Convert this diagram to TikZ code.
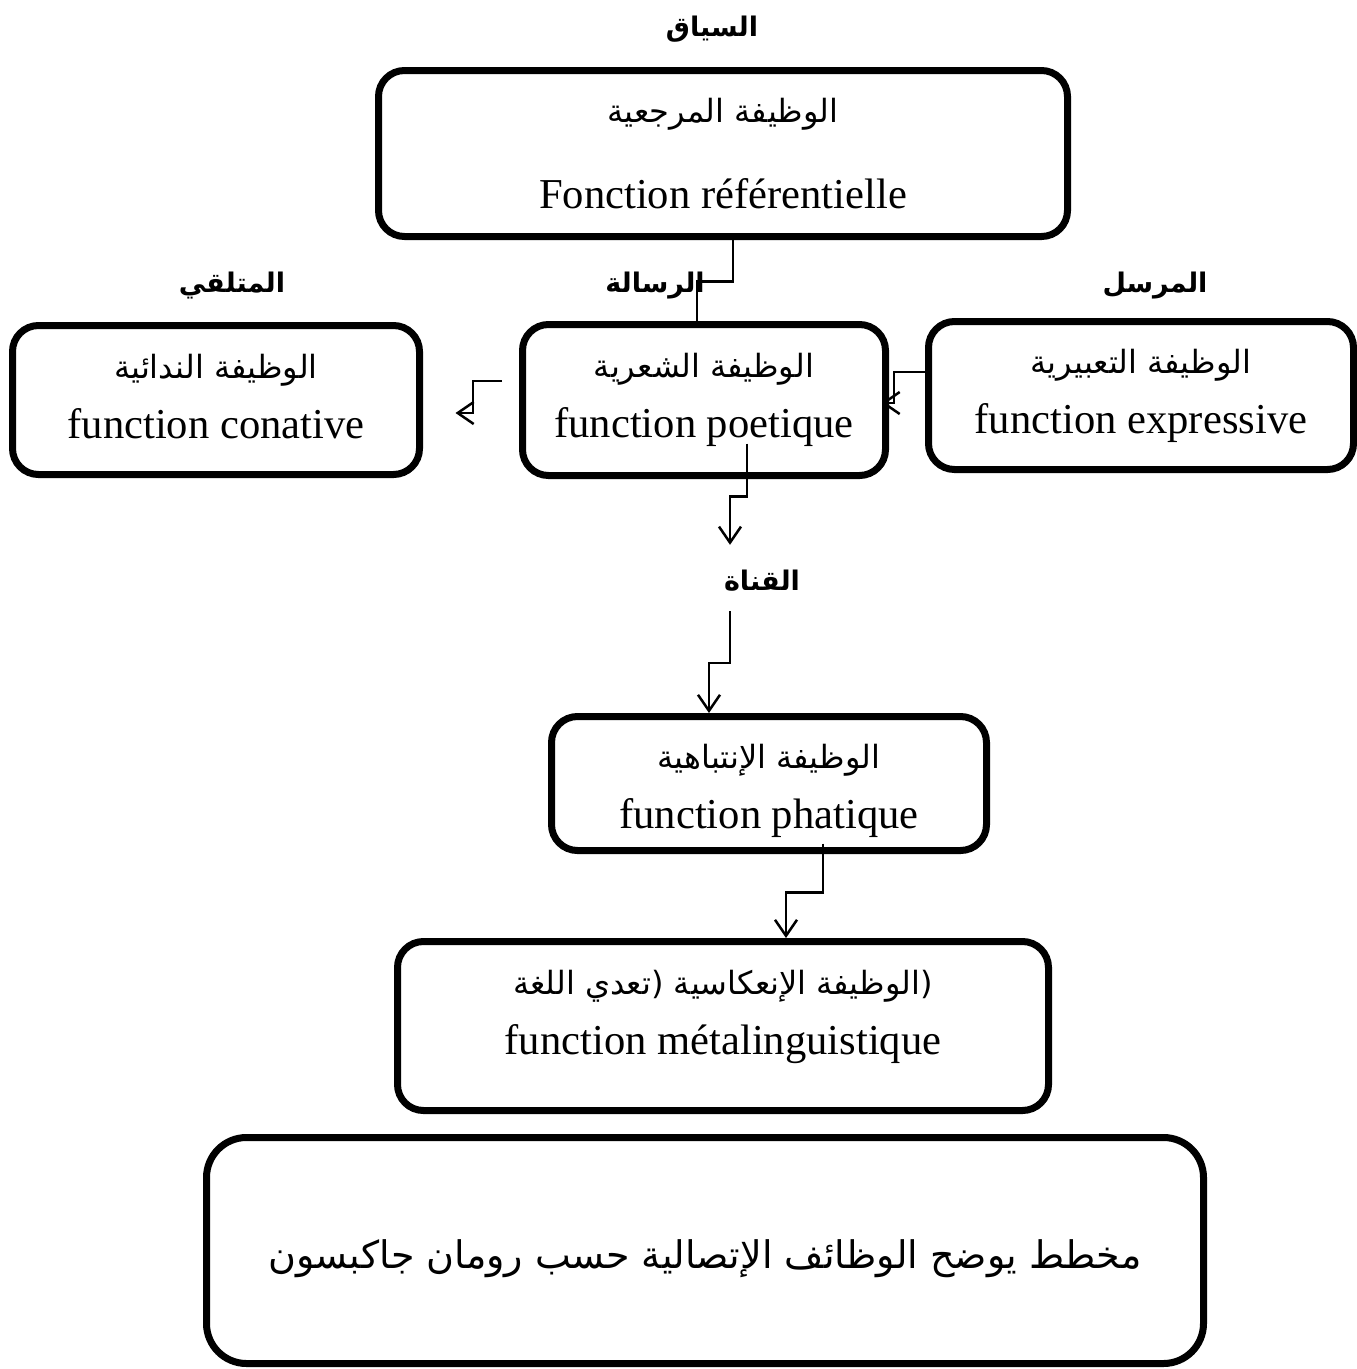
\documentclass[tikz,border=0pt]{standalone}
\usepackage{fontspec}
\setmainfont{Liberation Serif}
\newfontfamily\arabicfont[Script=Arabic]{DejaVu Sans}
\TeXXeTstate=1
\usetikzlibrary{arrows.meta}
\pgfdeclarelayer{back}
\pgfsetlayers{back,main}

\newcommand{\artext}[1]{{\arabicfont\fontsize{32}{60}\selectfont\beginR #1\endR}}
\newcommand{\arhead}[1]{{\arabicfont\bfseries\fontsize{27}{40}\selectfont\beginR #1\endR}}

\tikzset{
fbox/.style={draw,line width=7pt,rounded corners=26pt,fill=white,align=center,
  font=\fontsize{42.6}{60}\selectfont,inner sep=0pt,text depth=10pt},
head/.style={anchor=base,inner sep=0pt,text height=30pt,text depth=8pt},
conn/.style={line width=2.5pt},
arr/.style={conn,-{Straight Barb[length=16pt,width=22pt]}}
}

\begin{document}
\begin{tikzpicture}[x=1pt,y=-1pt]
\useasboundingbox (0,0) rectangle (1357,1369);

% the labels
\node[head] (ctx) at (712,36) {\arhead{السياق}};
\node[head] (rcv) at (232,292) {\arhead{المتلقي}};
\node[head] (msg) at (655,292) {\arhead{الرسالة}};
\node[head] (snd) at (1155,292) {\arhead{المرسل}};
\node[head] (chan) at (762,590) {\arhead{القناة}};

% the boxes
\node[fbox,minimum width=689pt,minimum height=166pt,text height=119pt] (ref) at (723,153.5)
  {\artext{الوظيفة المرجعية}\\[26pt]Fonction référentielle};
\node[fbox,minimum width=407pt,minimum height=149pt,text height=86pt] (con) at (216,400)
  {\artext{الوظيفة الندائية}\\function conative};
\node[fbox,minimum width=363pt,minimum height=151pt,text height=84pt] (poet) at (704,400)
  {\artext{الوظيفة الشعرية}\\function poetique};
\node[fbox,minimum width=425pt,minimum height=148pt,text height=85pt] (expr) at (1141,395.5)
  {\artext{الوظيفة التعبيرية}\\function expressive};
\node[fbox,minimum width=435pt,minimum height=134pt,text height=99pt] (phat) at (769,783.5)
  {\artext{الوظيفة الإنتباهية}\\function phatique};
\node[fbox,minimum width=651pt,minimum height=169pt,text height=66pt] (meta) at (723,1026)
  {\artext{(الوظيفة الإنعكاسية (تعدي اللغة}\\function métalinguistique};
\node[fbox,rounded corners=40pt,minimum width=997pt,minimum height=226pt,text height=45pt] (cap) at (705,1250.5)
  {{\arabicfont\fontsize{38}{60}\selectfont\beginR مخطط يوضح الوظائف الإتصالية حسب رومان جاكبسون\endR}};

% sender to message, under the boxes
\begin{pgfonlayer}{back}
\draw[arr] ([yshift=23.5pt]expr.west) -- ++(-31,0) |- ([xshift=-7.5pt,yshift=-3pt]poet.east);
\end{pgfonlayer}

% the connectors
\draw[conn] ([xshift=10pt]ref.south) -- ++(0,41.5) -| ([xshift=-7pt]poet.north);
\draw[arr] ([xshift=-17pt,yshift=19pt]poet.west) -- ++(-29,0) |- ([xshift=32.5pt,yshift=-13pt]con.east);
\draw[arr] ([xshift=43pt,yshift=35.5pt]poet.south) -- ++(0,53) -| ([xshift=-32pt,yshift=15pt]chan.north);
\draw[arr] ([xshift=-32pt,yshift=-13pt]chan.south) -- ++(0,52) -| ([xshift=-60pt]phat.north);
\draw[arr] ([xshift=54pt,yshift=10.5pt]phat.south) -- ++(0,49) -| ([xshift=63pt]meta.north);
\end{tikzpicture}
\end{document}
